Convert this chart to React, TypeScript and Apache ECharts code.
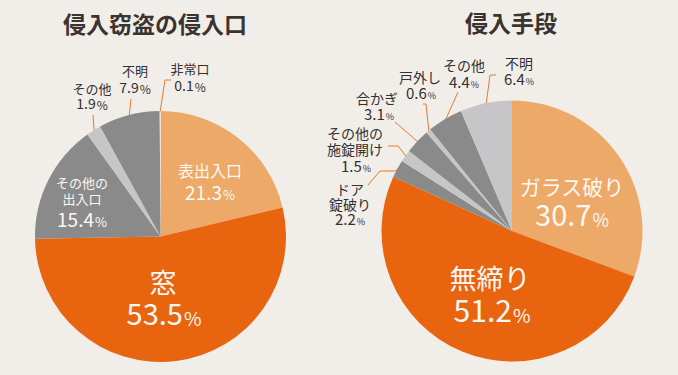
import React, { useEffect, useRef } from 'react';
import * as echarts from 'echarts';

// ---- data ----
const leftTitle = '侵入窃盗の侵入口';
const rightTitle = '侵入手段';

const leftCategories = ['表出入口', '窓', 'その他の出入口', 'その他', '不明', '非常口'];
const leftValues = [21.3, 53.5, 15.4, 1.9, 7.9, 0.1];
const leftLabelNames = ['表出入口', '窓', 'その他の\n出入口', 'その他', '不明', '非常口'];

const rightCategories = ['ガラス破り', '無締り', 'ドア錠破り', 'その他の施錠開け', '合かぎ', '戸外し', 'その他', '不明'];
const rightValues = [30.7, 51.2, 2.2, 1.5, 3.1, 0.6, 4.4, 6.4];
const rightLabelNames = ['ガラス破り', '無締り', 'ドア\n錠破り', 'その他の\n施錠開け', '合かぎ', '戸外し', 'その他', '不明'];

// ---- styles / layout ----
const BG = '#f1eeea';
const ORANGE = '#e8640f';
const LIGHT_ORANGE = '#eda968';
const GRAY = '#8b8a8b';
const LIGHT_GRAY = '#c6c5c8';
const WHITE_SLICE = '#f7f6f4';
const LINE_COLOR = '#e9782b';
const FONT = '"Noto Sans CJK JP", "Noto Sans", sans-serif';
const W = '#fbf8f4';
const D = '#333030';

const leftColors = [LIGHT_ORANGE, ORANGE, GRAY, LIGHT_GRAY, GRAY, WHITE_SLICE];
const rightColors = [LIGHT_ORANGE, ORANGE, GRAY, LIGHT_GRAY, GRAY, LIGHT_GRAY, GRAY, LIGHT_GRAY];

const LEFT_CENTER = [160.5, 236.5];
const LEFT_R = 125.5;
const RIGHT_CENTER = [512, 231];
const RIGHT_R = 130.5;

// name label: position, font size, line height, colour; value label: position, sizes; leader line bends
type LabelSpec = {
  nx: number; ny: number; nfs: number; nlh: number;
  vx: number; vy: number; vfs: number; pfs: number;
  color: string;
  line?: number[][];
};

const leftLabelSpec: LabelSpec[] = [
  { nx: 210, ny: 170, nfs: 16, nlh: 20, vx: 210, vy: 191, vfs: 19, pfs: 13, color: W },
  { nx: 163, ny: 281, nfs: 27, nlh: 30, vx: 164, vy: 312, vfs: 29, pfs: 19, color: W },
  { nx: 82, ny: 190, nfs: 13, nlh: 16, vx: 82, vy: 218, vfs: 19, pfs: 13, color: W },
  { nx: 92, ny: 88, nfs: 13, nlh: 16, vx: 92, vy: 103, vfs: 14, pfs: 12, color: D, line: [[93, 115]] },
  { nx: 135, ny: 70, nfs: 13, nlh: 16, vx: 135, vy: 87, vfs: 14, pfs: 12, color: D, line: [[131, 99]] },
  { nx: 190, ny: 68, nfs: 13, nlh: 16, vx: 190, vy: 85, vfs: 14, pfs: 12, color: D, line: [[165, 80], [171, 80]] },
];

const rightLabelSpec: LabelSpec[] = [
  { nx: 572, ny: 186, nfs: 21, nlh: 26, vx: 572, vy: 213, vfs: 29, pfs: 18, color: W },
  { nx: 490, ny: 277, nfs: 27, nlh: 30, vx: 492, vy: 309, vfs: 30, pfs: 19, color: W },
  { nx: 350, ny: 196, nfs: 14, nlh: 15, vx: 350, vy: 218, vfs: 15, pfs: 9, color: D, line: [[395, 171], [380, 171], [368, 185]] },
  { nx: 355, ny: 141, nfs: 14, nlh: 15.5, vx: 356, vy: 165, vfs: 15, pfs: 9, color: D, line: [[398, 146], [388, 146]] },
  { nx: 377, ny: 97.5, nfs: 14, nlh: 16, vx: 379, vy: 113, vfs: 15, pfs: 9, color: D, line: [[395, 122]] },
  { nx: 420, ny: 77, nfs: 14, nlh: 16, vx: 421, vy: 92.5, vfs: 15, pfs: 9, color: D, line: [[426, 104], [423, 104]] },
  { nx: 464, ny: 65, nfs: 14, nlh: 16, vx: 464, vy: 81, vfs: 15, pfs: 9, color: D, line: [[458, 92]] },
  { nx: 519, ny: 62.5, nfs: 14, nlh: 16, vx: 519, vy: 78, vfs: 15, pfs: 9, color: D, line: [[490, 75], [496, 75]] },
];

function edgePoint(values: number[], idx: number, center: number[], r: number): number[] {
  const total = values.reduce((a, b) => a + b, 0);
  let cum = 0;
  for (let i = 0; i < idx; i++) cum += values[i];
  const mid = cum + values[idx] / 2;
  const ang = ((90 - (360 * mid) / total) * Math.PI) / 180;
  return [center[0] + r * Math.cos(ang), center[1] - r * Math.sin(ang)];
}

const common = {
  type: 'pie',
  startAngle: 90,
  clockwise: true,
  avoidLabelOverlap: false,
  silent: true,
  emphasis: { disabled: true },
};

// the pie itself, carrying the name labels and leader lines
function nameSeries(categories: string[], values: number[], labelNames: string[], colors: string[], spec: LabelSpec[], center: number[], r: number) {
  return {
    ...common,
    center,
    radius: r,
    itemStyle: { borderWidth: 0 },
    labelLine: { show: true, length: 8, length2: 8, smooth: false, lineStyle: { color: LINE_COLOR, width: 1 } },
    data: categories.map((name, i) => {
      const s = spec[i];
      const outside = !!s.line;
      return {
        name,
        value: values[i],
        itemStyle: { color: colors[i] },
        label: {
          show: true,
          position: outside ? 'outside' : 'inside',
          formatter: labelNames[i],
          fontFamily: FONT,
          fontSize: s.nfs,
          lineHeight: s.nlh,
          color: s.color,
          align: 'center',
        },
        labelLine: { show: outside },
      };
    }),
    labelLayout: (params: any) => {
      const s = spec[params.dataIndex];
      const res: any = { x: s.nx, y: s.ny, align: 'center', verticalAlign: 'middle' };
      if (s.line) res.labelLinePoints = [edgePoint(values, params.dataIndex, center, r - 1), ...s.line];
      return res;
    },
  };
}

// transparent overlay of the same pie, carrying the percentage labels
function valueSeries(categories: string[], values: number[], spec: LabelSpec[], center: number[], r: number) {
  return {
    ...common,
    center,
    radius: r,
    z: 5,
    itemStyle: { color: 'rgba(0,0,0,0)', borderWidth: 0 },
    labelLine: { show: false },
    data: categories.map((name, i) => {
      const s = spec[i];
      return {
        name,
        value: values[i],
        label: {
          show: true,
          position: 'inside',
          formatter: `{v|${values[i].toFixed(1)}}{p|%}`,
          rich: {
            v: { fontFamily: FONT, fontSize: s.vfs, color: s.color },
            p: { fontFamily: FONT, fontSize: s.pfs, color: s.color, verticalAlign: 'bottom', padding: [0, 0, 0, 1] },
          },
        },
      };
    }),
    labelLayout: (params: any) => {
      const s = spec[params.dataIndex];
      return { x: s.vx, y: s.vy, align: 'center', verticalAlign: 'middle' };
    },
  };
}

export default function App() {
  const ref = useRef<HTMLDivElement>(null);
  useEffect(() => {
    document.body.style.margin = '0';
    document.body.style.background = BG;
    if (!ref.current) return;
    const chart = echarts.init(ref.current, null, { renderer: 'svg' });
    chart.setOption({
      animation: false,
      backgroundColor: BG,
      graphic: [
        {
          type: 'text',
          x: 155,
          y: 23,
          style: { text: leftTitle, font: `bold 23px ${FONT}`, fill: '#3a3330', align: 'center', verticalAlign: 'middle' },
        },
        {
          type: 'text',
          x: 511,
          y: 22,
          style: { text: rightTitle, font: `bold 23px ${FONT}`, fill: '#3a3330', align: 'center', verticalAlign: 'middle' },
        },
      ],
      series: [
        nameSeries(leftCategories, leftValues, leftLabelNames, leftColors, leftLabelSpec, LEFT_CENTER, LEFT_R),
        valueSeries(leftCategories, leftValues, leftLabelSpec, LEFT_CENTER, LEFT_R),
        nameSeries(rightCategories, rightValues, rightLabelNames, rightColors, rightLabelSpec, RIGHT_CENTER, RIGHT_R),
        valueSeries(rightCategories, rightValues, rightLabelSpec, RIGHT_CENTER, RIGHT_R),
      ],
    });
    return () => chart.dispose();
  }, []);
  return <div ref={ref} style={{ width: 678, height: 375, background: BG }} />;
}
